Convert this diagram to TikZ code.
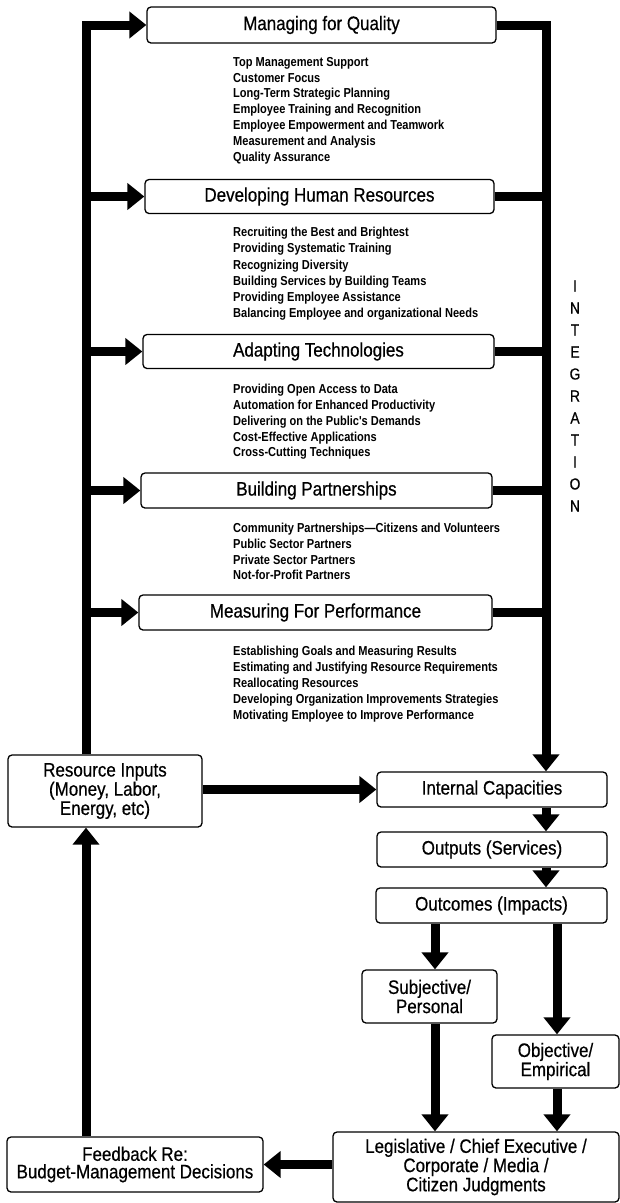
\documentclass[tikz,border=0pt]{standalone}
\usepackage{fontspec}
\setmainfont{Liberation Sans}
\newfontfamily\boxfont[FakeStretch=0.87,FakeBold=0.5]{Liberation Sans}
\newfontfamily\itemfont[FakeStretch=0.85]{Liberation Sans}
\usetikzlibrary{arrows.meta}

\begin{document}
\begin{tikzpicture}[x=1pt,y=-1pt,
  box/.style={draw, line width=1.3pt, rounded corners=4pt, fill=white,
    align=center, inner sep=2pt,
    font=\boxfont\fontsize{19.5}{17.5}\selectfont},
  items/.style={anchor=north west, inner sep=0pt, align=left,
    font=\itemfont\bfseries\fontsize{13}{#1}\selectfont},
  bar/.style={line width=9pt, line join=miter},
  flow/.style={line width=9pt, line join=miter,
    -{Triangle[width=26pt,length=17pt]}}]
\useasboundingbox (0,0) rectangle (620,1203);

% strategy boxes
\node[box, minimum width=349, minimum height=36] (mq) at (321.5,25) {Managing for Quality};
\node[box, minimum width=349, minimum height=34] (dh) at (319.5,196.5) {Developing Human Resources};
\node[box, minimum width=351, minimum height=34] (at) at (318.5,351.5) {Adapting Technologies};
\node[box, minimum width=351, minimum height=35] (bp) at (316.5,490.5) {Building Partnerships};
\node[box, minimum width=353, minimum height=35] (mp) at (315.5,612.5) {Measuring For Performance};

% lists under each strategy
\node[items=15.8] (mql) at (233,57) {Top Management Support\\Customer Focus\\Long-Term Strategic Planning\\Employee Training and Recognition\\Employee Empowerment and Teamwork\\Measurement and Analysis\\Quality Assurance};
\node[items=16.2] (dhl) at (233,227) {Recruiting the Best and Brightest\\Providing Systematic Training\\Recognizing Diversity\\Building Services by Building Teams\\Providing Employee Assistance\\Balancing Employee and organizational Needs};
\node[items=15.8] (atl) at (233,384) {Providing Open Access to Data\\Automation for Enhanced Productivity\\Delivering on the Public's Demands\\Cost-Effective Applications\\Cross-Cutting Techniques};
\node[items=15.7] (bpl) at (233,523) {Community Partnerships—Citizens and Volunteers\\Public Sector Partners\\Private Sector Partners\\Not-for-Profit Partners};
\node[items=16] (mpl) at (233,646) {Establishing Goals and Measuring Results\\Estimating and Justifying Resource Requirements\\Reallocating Resources\\Developing Organization Improvements Strategies\\Motivating Employee to Improve Performance};

\node[inner sep=0pt, align=center, font=\boxfont\fontsize{16}{22}\selectfont] (integ) at (575,396)
  {I\\N\\T\\E\\G\\R\\A\\T\\I\\O\\N};

% resource and result boxes
\node[box, minimum width=194, minimum height=72] (ri) at (105,791) {Resource Inputs\\(Money, Labor,\\Energy, etc)};
\node[box, minimum width=230, minimum height=35] (ic) at (492,789.5) {Internal Capacities};
\node[box, minimum width=230, minimum height=35] (os) at (492,849.5) {Outputs (Services)};
\node[box, minimum width=231, minimum height=35] (oc) at (491.5,905.5) {Outcomes (Impacts)};
\node[box, minimum width=135, minimum height=53] (sp) at (429.5,996.5) {Subjective/\\Personal};
\node[box, minimum width=127, minimum height=53] (oe) at (555.5,1061.5) {Objective/\\Empirical};
\node[box, minimum width=286, minimum height=70] (lg) at (476,1167) {Legislative / Chief Executive /\\Corporate / Media /\\Citizen Judgments};
\node[box, minimum width=256, minimum height=55] (fb) at (135,1164.5) {Feedback Re:\\Budget-Management Decisions};

% trunk and branch positions
\coordinate (lt) at (86,0);
\coordinate (rt) at (546,0);
\coordinate (ox) at (557,0);
\coordinate (sx) at (435,0);

% left trunk feeding the strategies
\draw[flow] (ri.north -| lt) -- (mq.west -| lt) -- (mq.west);
\foreach \b in {dh,at,bp,mp}
  \draw[flow] (\b.west -| lt) -- (\b.west);

% right trunk collecting the strategies
\draw[flow] (mq.east) -- (mq.east -| rt) -- (ic.north -| rt);
\foreach \b in {dh,at,bp,mp}
  \draw[bar] (\b.east) -- (\b.east -| rt);

% result chain
\draw[flow] (ri.east |- ic.west) -- (ic.west);
\draw[flow] (ic.south -| rt) -- (os.north -| rt);
\draw[flow] (os.south -| rt) -- (oc.north -| rt);
\draw[flow] (oc.south -| sx) -- (sp.north -| sx);
\draw[flow] (oc.south -| ox) -- (oe.north -| ox);
\draw[flow] (sp.south -| sx) -- (lg.north -| sx);
\draw[flow] (oe.south -| ox) -- (lg.north -| ox);
\draw[flow] (lg.west |- fb.east) -- (fb.east);
\draw[flow] (fb.north -| lt) -- (ri.south -| lt);
\end{tikzpicture}
\end{document}
